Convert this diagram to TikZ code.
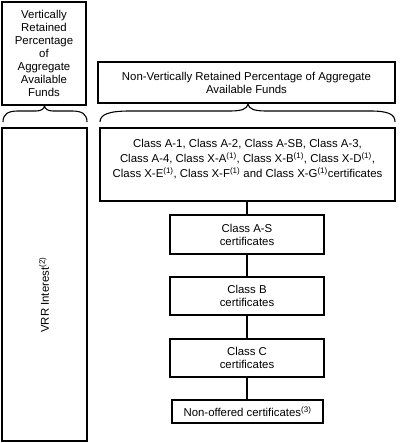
\documentclass[tikz,border=0pt]{standalone}
\usepackage{fontspec}
\setmainfont{Liberation Sans}
\newcommand{\fnref}[1]{\textsuperscript{(#1)}}
\begin{document}
\begin{tikzpicture}[x=1pt,y=-1pt,
  box/.style={draw=black,line width=2.6pt,rectangle,inner sep=0pt,outer sep=0pt,align=center,
    font=\fontsize{11.4}{13}\selectfont},
  txt/.style={inner sep=0pt,outer sep=0pt,align=center,font=\fontsize{11.4}{13}\selectfont},
  link/.style={draw=black,line width=2.6pt},
  bracepath/.style={draw=black,line width=1.1pt}]
\useasboundingbox (0,0) rectangle (400,443);
% top-left box
\node[box,minimum width=84pt,minimum height=103pt] (vrp) at (44,53.5)
  {Vertically\\Retained\\Percentage\\of\\Aggregate\\Available\\Funds};
% top-right box
\node[box,minimum width=297pt,minimum height=41pt] (nvrp) at (246.5,82.5)
  {Non-Vertically Retained Percentage of Aggregate\\Available Funds};
% braces
\draw[bracepath] (3,122) .. controls (3,114) and (8,111) .. (18,111) -- (36,111)
  .. controls (41,111) and (44,109) .. (44.5,106)
  .. controls (45,109) and (48,111) .. (53,111) -- (72,111)
  .. controls (82,111) and (87,114) .. (87,122);
\draw[bracepath] (100,122) .. controls (100,114) and (110,111) .. (130,111) -- (230,111)
  .. controls (242,111) and (247,109) .. (248,104)
  .. controls (249,109) and (254,111) .. (266,111) -- (370,111)
  .. controls (388,111) and (395,114) .. (395,122);
% tall left box
\node[box,minimum width=85pt,minimum height=313pt] (vrr) at (44.5,284.5) {};
\node[txt,rotate=90] (vrrtext) at (44,295) {VRR Interest\fnref{2}};
% big class box
\node[box,minimum width=295pt,minimum height=73pt] (big) at (247.5,164.5) {};
\node[txt,anchor=north,font=\fontsize{11.4}{15}\selectfont] (bigtext) at (247.5,139)
  {Class A-1, Class A-2, Class A-SB, Class A-3,\\
   Class A-4, Class X-A\fnref{1}, Class X-B\fnref{1}, Class X-D\fnref{1},\\
   Class X-E\fnref{1}, Class X-F\fnref{1} and Class X-G\fnref{1}certificates};
% chain
\node[box,minimum width=154pt,minimum height=39pt] (as) at (247,234.5) {Class A-S\\certificates};
\node[box,minimum width=154pt,minimum height=38pt] (b) at (247,296) {Class B\\certificates};
\node[box,minimum width=154pt,minimum height=38pt] (c) at (247,358) {Class C\\certificates};
\node[box,minimum width=151pt,minimum height=23pt] (no) at (247.5,411.5) {Non-offered certificates\fnref{3}};
\draw[link] (big.south -| as.north) -- (as.north);
\draw[link] (as.south) -- (b.north);
\draw[link] (b.south) -- (c.north);
\draw[link] (c.south) -- (c.south |- no.north);
\end{tikzpicture}
\end{document}
